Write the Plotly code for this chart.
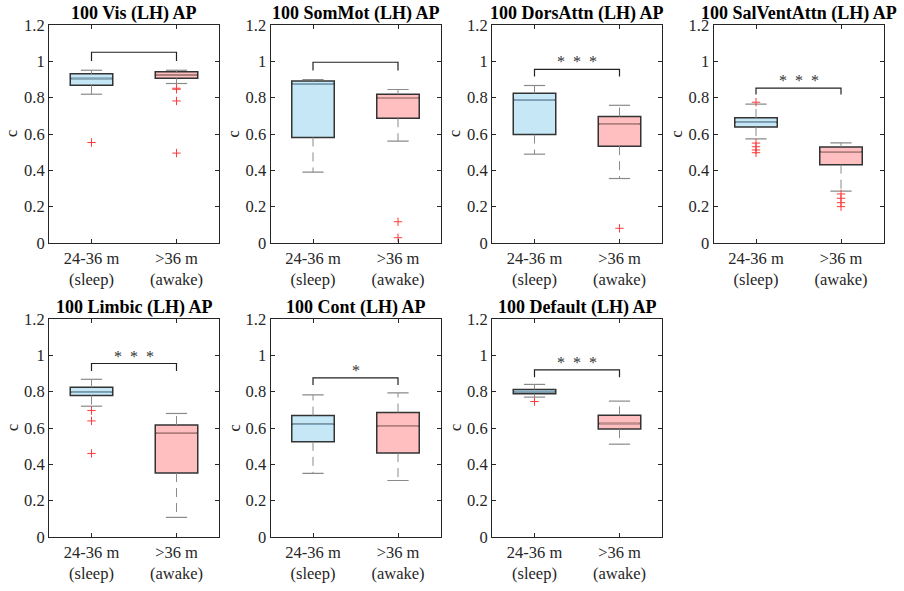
import plotly.graph_objects as go

# ---------------- data ----------------
titles = ["100 Vis (LH) AP", "100 SomMot (LH) AP", "100 DorsAttn (LH) AP",
          "100 SalVentAttn (LH) AP", "100 Limbic (LH) AP", "100 Cont (LH) AP",
          "100 Default (LH) AP"]
group_labels = ["24-36 m<br>(sleep)", ">36 m<br>(awake)"]
y_ticks = [0, 0.2, 0.4, 0.6, 0.8, 1.0, 1.2]
y_ticktext = ["0", "0.2", "0.4", "0.6", "0.8", "1", "1.2"]

sleep_q1 = [0.868, 0.581, 0.597, 0.638, 0.779, 0.524, 0.788]
sleep_med = [0.905, 0.876, 0.788, 0.665, 0.797, 0.621, 0.800]
sleep_q3 = [0.931, 0.892, 0.824, 0.689, 0.824, 0.669, 0.812]
sleep_lo = [0.819, 0.390, 0.489, 0.573, 0.720, 0.350, 0.770]
sleep_hi = [0.951, 0.900, 0.867, 0.765, 0.868, 0.782, 0.840]
sleep_out = [[0.553], [], [], [0.775, 0.550, 0.530, 0.512, 0.497],
             [0.696, 0.639, 0.460], [], [0.746]]

awake_q1 = [0.907, 0.687, 0.533, 0.431, 0.352, 0.462, 0.594]
awake_med = [0.925, 0.799, 0.654, 0.502, 0.573, 0.610, 0.625]
awake_q3 = [0.942, 0.819, 0.696, 0.529, 0.617, 0.685, 0.670]
awake_lo = [0.878, 0.561, 0.355, 0.286, 0.108, 0.311, 0.511]
awake_hi = [0.951, 0.845, 0.758, 0.551, 0.680, 0.793, 0.748]
awake_out = [[0.852, 0.846, 0.782, 0.495], [0.117, 0.029], [0.081],
             [0.270, 0.246, 0.222, 0.200], [], [], []]

bracket_y = [1.050, 0.995, 0.956, 0.852, 0.955, 0.876, 0.920]
bracket_drop = [1.002, 0.949, 0.916, 0.817, 0.914, 0.837, 0.880]
sig_labels = ["", "", "* * *", "* * *", "* * *", "*", "* * *"]

# ---------------- styles ----------------
W, H = 904, 591
FONT = "Liberation Serif"
TICK_SIZE = 16.5
fills = ["#c5e7f6", "#ffbfc0"]
median_cols = ["#7fa6bb", "#c58c8c"]
edge = "#333333"
whisk_col = "#8a8a8a"
box_w = 0.5
cap_w = 0.25

col_left = [49, 270.5, 492, 713.5]
ax_w = 170
row_top = [25, 319]
ax_h = 218

fig = go.Figure()
annotations = []
layout_axes = {}

for i in range(7):
    row, col = divmod(i, 4)
    k = i + 1
    xa = "x" if k == 1 else f"x{k}"
    ya = "y" if k == 1 else f"y{k}"
    xname = "xaxis" if k == 1 else f"xaxis{k}"
    yname = "yaxis" if k == 1 else f"yaxis{k}"

    x0 = col_left[col] / W
    x1 = (col_left[col] + ax_w) / W
    y1 = 1 - row_top[row] / H
    y0 = 1 - (row_top[row] + ax_h) / H

    stats = [
        (sleep_q1[i], sleep_med[i], sleep_q3[i], sleep_lo[i], sleep_hi[i], sleep_out[i]),
        (awake_q1[i], awake_med[i], awake_q3[i], awake_lo[i], awake_hi[i], awake_out[i]),
    ]
    for g, (q1, med, q3, lo, hi, outs) in enumerate(stats):
        c = g + 1
        fig.add_trace(go.Box(
            x=[c], q1=[q1], median=[med], q3=[q3], lowerfence=[q1], upperfence=[q3],
            width=box_w, fillcolor=fills[g], line=dict(color=edge, width=1.5),
            whiskerwidth=0, boxpoints=False, xaxis=xa, yaxis=ya, hoverinfo="skip"))
        fig.add_trace(go.Scatter(
            x=[c, c, None, c, c], y=[q3, hi, None, q1, lo], mode="lines",
            line=dict(color=whisk_col, width=1, dash="9px,6px"),
            xaxis=xa, yaxis=ya, hoverinfo="skip"))
        fig.add_trace(go.Scatter(
            x=[c - cap_w / 2, c + cap_w / 2, None, c - cap_w / 2, c + cap_w / 2],
            y=[hi, hi, None, lo, lo], mode="lines",
            line=dict(color=whisk_col, width=1.2),
            xaxis=xa, yaxis=ya, hoverinfo="skip"))
        fig.add_trace(go.Scatter(
            x=[c - box_w / 2 + 0.012, c + box_w / 2 - 0.012], y=[med, med], mode="lines",
            line=dict(color=median_cols[g], width=1.6),
            xaxis=xa, yaxis=ya, hoverinfo="skip"))
        if outs:
            fig.add_trace(go.Scatter(
                x=[c] * len(outs), y=outs, mode="markers",
                marker=dict(symbol="cross-thin", size=6,
                            line=dict(color="#ff3b3b", width=1)),
                xaxis=xa, yaxis=ya, hoverinfo="skip"))

    fig.add_trace(go.Scatter(
        x=[1, 1, 2, 2], y=[bracket_drop[i], bracket_y[i], bracket_y[i], bracket_drop[i]],
        mode="lines", line=dict(color="#222222", width=1.2),
        xaxis=xa, yaxis=ya, hoverinfo="skip"))
    if sig_labels[i]:
        annotations.append(dict(
            x=1.5, y=bracket_y[i], xref=xa, yref=ya, text=sig_labels[i].replace(" ", "  "),
            showarrow=False, yanchor="bottom", yshift=-3,
            font=dict(family=FONT, size=16, color="#333333")))

    layout_axes[xname] = dict(
        domain=[x0, x1], anchor=ya, range=[0.5, 2.5], tickvals=[1, 2],
        ticktext=group_labels, ticks="inside", ticklen=4, tickcolor="#262626",
        showline=True, linecolor="#262626", linewidth=1, mirror="ticks",
        showgrid=False, zeroline=False, automargin=False,
        tickfont=dict(family=FONT, size=TICK_SIZE, color="#262626"))
    layout_axes[yname] = dict(
        domain=[y0, y1], anchor=xa, range=[0, 1.2], tickvals=y_ticks,
        ticktext=y_ticktext, ticks="inside", ticklen=4, tickcolor="#262626",
        showline=True, linecolor="#262626", linewidth=1, mirror="ticks",
        showgrid=False, zeroline=False, automargin=False,
        tickfont=dict(family=FONT, size=TICK_SIZE, color="#262626"))

    annotations.append(dict(
        x=(x0 + x1) / 2, y=1 - (row_top[row] - 12) / H, xref="paper", yref="paper",
        text=f"<b>{titles[i]}</b>", showarrow=False, xanchor="center", yanchor="middle",
        font=dict(family=FONT, size=18, color="#000000")))
    annotations.append(dict(
        x=(col_left[col] - 37) / W, y=(y0 + y1) / 2, xref="paper", yref="paper",
        text="c", textangle=-90, showarrow=False, xanchor="center", yanchor="middle",
        font=dict(family=FONT, size=TICK_SIZE, color="#262626")))

fig.update_layout(
    width=W, height=H, margin=dict(l=0, r=0, t=0, b=0, pad=0, autoexpand=False),
    font=dict(family=FONT),
    paper_bgcolor="white", plot_bgcolor="white", showlegend=False,
    annotations=annotations, **layout_axes)

fig.write_html("out.html")
